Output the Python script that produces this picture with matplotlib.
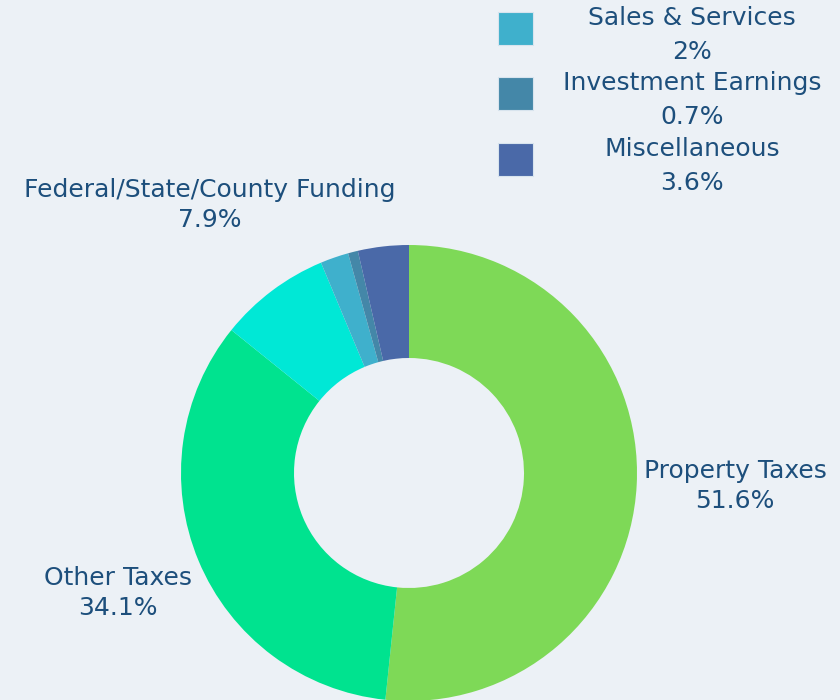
import matplotlib
matplotlib.use("Agg")
import matplotlib.pyplot as plt
from matplotlib.patches import Rectangle

categories = ["Property Taxes", "Other Taxes", "Federal/State/County Funding",
              "Sales & Services", "Investment Earnings", "Miscellaneous"]
values = [51.6, 34.1, 7.9, 2, 0.7, 3.6]
colors = ["#7ed957", "#00e38f", "#00e8d6", "#3fb0cc", "#4487a8", "#4a69a8"]

BG = "#ecf1f6"
TXT = "#1d4f7c"
FS = 18

fig = plt.figure(figsize=(8.4, 7.0), dpi=100, facecolor=BG)
ax = fig.add_axes([0, 0, 1, 1])
ax.set_facecolor(BG)

# y axis is inverted below: startangle -90 points up, counterclock runs clockwise on screen
wedges, _ = ax.pie(values, colors=colors, startangle=-90, counterclock=True,
                   center=(409, 473), radius=228,
                   wedgeprops=dict(width=113, linewidth=0), frame=True)
ax.set_xlim(0, 840)
ax.set_ylim(700, 0)
ax.set_aspect("equal")
ax.axis("off")

def fmt(v):
    return f"{v:g}%"

# direct labels for big slices
label_pos = {0: (735, 486), 1: (118, 593), 2: (210, 205)}
for i, (x, y) in label_pos.items():
    ax.text(x, y, f"{categories[i]}\n{fmt(values[i])}", ha="center", va="center",
            color=TXT, fontsize=FS, linespacing=1.35, multialignment="center")

# legend for small slices
leg_rows = {3: 12, 4: 77, 5: 143}
for i, y in leg_rows.items():
    ax.add_patch(Rectangle((498, y), 35, 33, facecolor=colors[i], edgecolor="#d8e4ee", lw=0.8))
    ax.text(692, y + 6, categories[i], ha="center", va="center", color=TXT, fontsize=FS)
    ax.text(692, y + 40, fmt(values[i]), ha="center", va="center", color=TXT, fontsize=FS)

fig.savefig("out.png", dpi=100, facecolor=BG)
